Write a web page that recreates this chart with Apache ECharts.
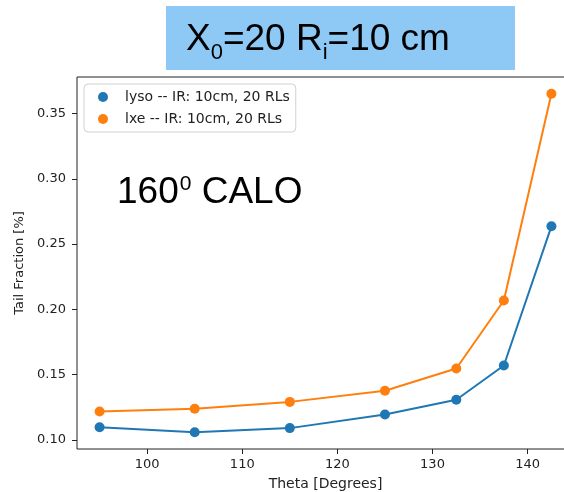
<!DOCTYPE html>
<html>
<head>
<meta charset="utf-8">
<script src="https://cdn.jsdelivr.net/npm/echarts@6/dist/echarts.min.js"></script>
<style>
  html, body { margin: 0; padding: 0; background: #fff; }
  #chart { width: 564px; height: 492px; }
</style>
</head>
<body>
<div id="chart"></div>
<script>
// theta values (degrees) shared by both series
var theta = [95, 105, 115, 125, 132.5, 137.5, 142.5];
var lysoTail = [0.1097, 0.1059, 0.1090, 0.1194, 0.1307, 0.1570, 0.2636];
var lxeTail = [0.1217, 0.1238, 0.1291, 0.1376, 0.1547, 0.2068, 0.3651];
var xTicks = [100, 110, 120, 130, 140];
var yTicks = [0.10, 0.15, 0.20, 0.25, 0.30, 0.35];
var seriesNames = ['lyso -- IR: 10cm, 20 RLs', 'lxe -- IR: 10cm, 20 RLs'];

var myChart = echarts.init(document.getElementById('chart'));

function pairs(ys) {
    return theta.map(function (t, i) { return [t, ys[i]]; });
}

var axisFont = { fontFamily: 'DejaVu Sans', fontSize: 13, color: '#222' };

var option = {
    backgroundColor: '#fff',
    animation: false,
    color: ['#1f77b4', '#ff7f0e'],
    grid: {
        left: 77, top: 77, right: -10, bottom: 43,
        outerBoundsMode: 'none',
        containLabel: false,
        show: true, borderColor: '#222', borderWidth: 1, backgroundColor: 'transparent'
    },
    legend: {
        data: seriesNames,
        orient: 'vertical',
        left: 84, top: 84,
        icon: 'circle',
        itemWidth: 34, itemHeight: 10,
        itemGap: 8,
        padding: [6, 6, 6, 14],
        backgroundColor: '#fff',
        borderColor: '#d0d0d0', borderWidth: 1, borderRadius: 4,
        textStyle: { fontFamily: 'DejaVu Sans', fontSize: 14, color: '#222', lineHeight: 14 }
    },
    xAxis: {
        type: 'value',
        min: 92.625, max: 144.875,
        name: 'Theta [Degrees]',
        nameLocation: 'middle',
        nameGap: 28,
        nameTextStyle: { fontFamily: 'DejaVu Sans', fontSize: 14, color: '#222' },
        splitLine: { show: false },
        axisLine: { show: false },
        axisTick: { show: true, length: 5, lineStyle: { color: '#222' }, customValues: xTicks },
        axisLabel: Object.assign({ margin: 9, customValues: xTicks }, axisFont)
    },
    yAxis: {
        type: 'value',
        min: 0.093, max: 0.378,
        name: 'Tail Fraction [%]',
        nameLocation: 'middle',
        nameGap: 50,
        nameTextStyle: axisFont,
        splitLine: { show: false },
        axisLine: { show: false },
        axisTick: { show: true, length: 5, lineStyle: { color: '#222' }, customValues: yTicks },
        axisLabel: Object.assign({
            margin: 11, customValues: yTicks,
            formatter: function (v) { return v.toFixed(2); }
        }, axisFont)
    },
    series: [
        {
            name: seriesNames[0], type: 'line', data: pairs(lysoTail),
            symbol: 'circle', symbolSize: 10, showSymbol: true,
            lineStyle: { width: 2 }, z: 2
        },
        {
            name: seriesNames[1], type: 'line', data: pairs(lxeTail),
            symbol: 'circle', symbolSize: 10, showSymbol: true,
            lineStyle: { width: 2 }, z: 3
        }
    ],
    graphic: [
        {
            type: 'rect', left: 166, top: 6, z: 10,
            shape: { width: 349, height: 64 },
            style: { fill: '#8ec9f6' }
        },
        {
            type: 'text', left: 186, top: 21, z: 11,
            style: {
                text: '{a|X}{s|0}{a|=20 R}{s|i}{a|=10 cm}',
                rich: {
                    a: { fontFamily: 'Liberation Sans', fontSize: 37, lineHeight: 39, color: '#111', verticalAlign: 'top' },
                    s: { fontFamily: 'Liberation Sans', fontSize: 22, lineHeight: 22, color: '#111', verticalAlign: 'top', padding: [21, 0, 0, 0] }
                }
            }
        },
        {
            type: 'text', left: 117, top: 170, z: 11,
            style: {
                text: '{a|160}{p|0}{a| CALO}',
                rich: {
                    a: { fontFamily: 'Liberation Sans', fontSize: 37, lineHeight: 40, color: '#111', verticalAlign: 'top', padding: [4, 0, 0, 0] },
                    p: { fontFamily: 'Liberation Sans', fontSize: 21, lineHeight: 22, color: '#111', verticalAlign: 'top', padding: [4, 0, 0, 1] }
                }
            }
        }
    ]
};

option && myChart.setOption(option);
</script>
</body>
</html>
